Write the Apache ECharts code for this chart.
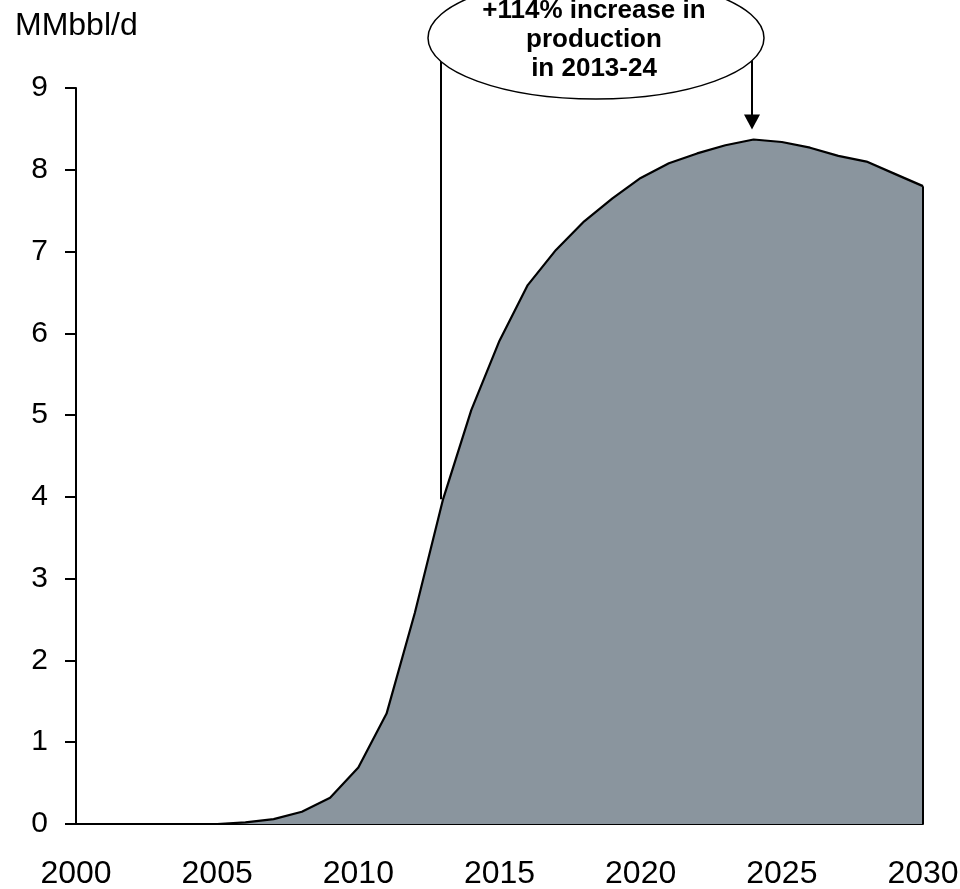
<!DOCTYPE html>
<html>
<head>
<meta charset="utf-8">
<script src="https://cdn.jsdelivr.net/npm/echarts@6/dist/echarts.min.js"></script>
<style>
  html, body { margin: 0; padding: 0; background: #ffffff; }
  #chart { width: 960px; height: 889px; }
</style>
</head>
<body>
<div id="chart"></div>
<script>
// Production outlook, million barrels per day
const years = [2000, 2001, 2002, 2003, 2004, 2005, 2006, 2007, 2008, 2009,
               2010, 2011, 2012, 2013, 2014, 2015, 2016, 2017, 2018, 2019,
               2020, 2021, 2022, 2023, 2024, 2025, 2026, 2027, 2028, 2029, 2030];
const production = [0, 0, 0, 0, 0, 0.00, 0.02, 0.06, 0.15, 0.32,
                    0.69, 1.35, 2.58, 3.97, 5.06, 5.91, 6.59, 7.02, 7.37, 7.65,
                    7.90, 8.08, 8.20, 8.30, 8.37, 8.34, 8.27, 8.17, 8.10, 7.95, 7.80];
const unitLabel = 'MMbbl/d';
const calloutLines = ['+114% increase in', 'production', 'in 2013-24'];
const calloutFrom = 2013;
const calloutTo = 2024;

const FONT = '"Liberation Sans", Arial, Helvetica, sans-serif';
const seriesData = years.map((y, i) => [y, production[i]]);
const lastYear = years[years.length - 1];
const lastValue = production[production.length - 1];

const chart = echarts.init(document.getElementById('chart'), null, { renderer: 'canvas' });

chart.setOption({
  animation: false,
  backgroundColor: '#ffffff',
  grid: { left: 76, right: 37, top: 88, bottom: 65, containLabel: false, outerBoundsMode: 'none' },
  xAxis: {
    type: 'value',
    min: 2000,
    max: 2030,
    interval: 5,
    axisLine: { show: true, lineStyle: { color: '#000', width: 2 } },
    axisTick: { show: false },
    splitLine: { show: false },
    axisLabel: {
      color: '#000', fontFamily: FONT, fontSize: 32, margin: 34,
      formatter: (v) => String(v)
    }
  },
  yAxis: {
    type: 'value',
    min: 0,
    max: 9,
    interval: 1,
    axisLine: { show: true, lineStyle: { color: '#000', width: 2 } },
    axisTick: { show: true, inside: false, length: 11, lineStyle: { color: '#000', width: 2 } },
    splitLine: { show: false },
    axisLabel: { color: '#000', fontFamily: FONT, fontSize: 30, margin: 28 }
  },
  series: [{
    type: 'line',
    data: seriesData,
    smooth: false,
    symbol: 'none',
    lineStyle: { color: '#000', width: 2.2 },
    areaStyle: { color: '#8a959e', opacity: 1 },
    z: 2,
    markLine: {
      silent: true,
      symbol: ['none', 'none'],
      label: { show: false },
      lineStyle: { color: '#000', width: 2, type: 'solid' },
      data: [[{ coord: [lastYear, 0] }, { coord: [lastYear, lastValue] }]]
    }
  }]
});

// Callout: bubble with a leader from the 2013 level and an arrow to the 2024 peak
function drawCallout() {
  const iFrom = years.indexOf(calloutFrom);
  const iTo = years.indexOf(calloutTo);
  const pFrom = chart.convertToPixel({ gridIndex: 0 }, [calloutFrom, production[iFrom]]);
  const pTo = chart.convertToPixel({ gridIndex: 0 }, [calloutTo, production[iTo]]);

  const cx = 596, cy = 38, rx = 168, ry = 61;
  const xFrom = Math.round(pFrom[0] - 2);
  const xTo = Math.round(pTo[0] - 2);
  const tipY = pTo[1] - 10;
  const headH = 15, headW = 8;

  chart.setOption({
    graphic: [
      {
        type: 'line', z: 10,
        shape: { x1: xFrom, y1: cy, x2: xFrom, y2: pFrom[1] },
        style: { stroke: '#000', lineWidth: 2 }
      },
      {
        type: 'line', z: 10,
        shape: { x1: xTo, y1: cy, x2: xTo, y2: tipY - headH + 1 },
        style: { stroke: '#000', lineWidth: 2 }
      },
      {
        type: 'polygon', z: 10,
        shape: { points: [[xTo - headW, tipY - headH], [xTo + headW, tipY - headH], [xTo, tipY]] },
        style: { fill: '#000' }
      },
      {
        type: 'ellipse', z: 11,
        shape: { cx: cx, cy: cy, rx: rx, ry: ry },
        style: { fill: '#ffffff', stroke: '#000', lineWidth: 1.5 }
      },
      {
        type: 'text', z: 12,
        x: 594, y: 40,
        style: {
          text: calloutLines.join('\n'),
          font: 'bold 26px ' + FONT,
          fill: '#000',
          align: 'center',
          verticalAlign: 'middle',
          lineHeight: 29
        }
      },
      {
        type: 'text', z: 12,
        x: 15, y: 26,
        style: {
          text: unitLabel,
          font: '32px ' + FONT,
          fill: '#000',
          align: 'left',
          verticalAlign: 'middle'
        }
      }
    ]
  });
}

drawCallout();
</script>
</body>
</html>
